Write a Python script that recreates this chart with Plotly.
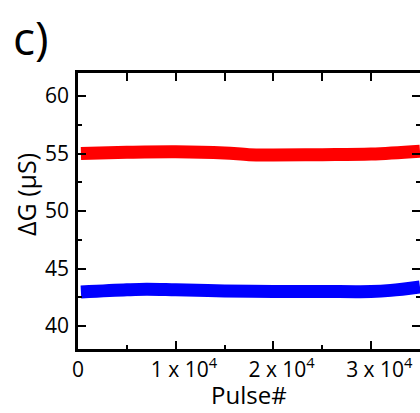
import plotly.graph_objects as go

# Conductance retention over repeated pulses (two states)
pulse_high = [300, 5000, 10000, 15000, 17500, 20000, 25000, 30000, 35000]
dg_high = [55.0, 55.1, 55.15, 55.05, 54.9, 54.88, 54.9, 54.95, 55.2]

pulse_low = [300, 5000, 7000, 10000, 15000, 20000, 25000, 30000, 32000, 35000]
dg_low = [42.95, 43.15, 43.2, 43.15, 43.05, 43.0, 43.0, 43.0, 43.1, 43.4]

x_ticks = [0, 10000, 20000, 30000]
x_tick_text = ["0", "1 x 10<sup>4</sup>", "2 x 10<sup>4</sup>", "3 x 10<sup>4</sup>"]
y_ticks = [40, 45, 50, 55, 60]

x_range = [0, 35000]
y_range = [38, 62]

FONT = "Open Sans"

# pad the exponent labels on the left so the mantissa sits over the tick
PAD = "\u00a0\u00a0\u00a0"
x_labels = [t if t == "0" else PAD + t for t in x_tick_text]

fig = go.Figure()
fig.add_trace(go.Scatter(x=pulse_high, y=dg_high, mode="lines",
                         line=dict(color="#ff0000", width=13, shape="spline"),
                         showlegend=False, hoverinfo="skip"))
fig.add_trace(go.Scatter(x=pulse_low, y=dg_low, mode="lines",
                         line=dict(color="#0000ff", width=13, shape="spline"),
                         showlegend=False, hoverinfo="skip"))
# transparent copy bound to the top/right tick axes so they get drawn
fig.add_trace(go.Scatter(x=pulse_low, y=dg_low, mode="lines", xaxis="x2", yaxis="y2",
                         line=dict(color="rgba(0,0,0,0)", width=0),
                         showlegend=False, hoverinfo="skip"))

tick_style = dict(ticks="inside", tickcolor="black", tickwidth=2, ticklen=8)
minor_style = dict(ticks="inside", ticklen=4, tickwidth=2, tickcolor="black")

fig.update_layout(
    width=420, height=413,
    margin=dict(l=78, r=0, t=73, b=64),
    paper_bgcolor="white", plot_bgcolor="white",
    font=dict(family=FONT, size=21, color="black"),
    xaxis=dict(range=x_range, tickvals=x_ticks, ticktext=x_labels,
               showline=True, mirror=True, linecolor="black", linewidth=2.5,
               showgrid=False, zeroline=False,
               minor=dict(dtick=5000, **minor_style),
               ticklabelstandoff=0, **tick_style),
    yaxis=dict(range=y_range, tickvals=y_ticks, showline=True,
               linecolor="black", linewidth=2.5,
               showgrid=False, zeroline=False,
               minor=dict(dtick=2.5, **minor_style),
               ticklabelstandoff=2, **tick_style),
    xaxis2=dict(range=x_range, overlaying="x", side="top", dtick=5000, tick0=0,
                showticklabels=False, showgrid=False, zeroline=False, **tick_style),
    yaxis2=dict(range=y_range, overlaying="y", side="right", dtick=5, tick0=40,
                showticklabels=False, showgrid=False, zeroline=False,
                minor=dict(dtick=2.5, **minor_style), **tick_style),
)

fig.add_annotation(text="Pulse#", xref="paper", yref="paper",
                   x=0.5, y=-0.232, xanchor="center", yanchor="bottom",
                   showarrow=False, font=dict(size=24))
fig.add_annotation(text="\u0394G (\u00b5S)", textangle=-90, xref="paper", yref="paper",
                   x=-0.152, y=0.558, xanchor="center", yanchor="middle",
                   showarrow=False, font=dict(size=25))
fig.add_annotation(text="c)", xref="paper", yref="paper", x=-0.195, y=1.25,
                   xanchor="left", yanchor="top", showarrow=False,
                   font=dict(size=46))

fig.write_html("out.html")
